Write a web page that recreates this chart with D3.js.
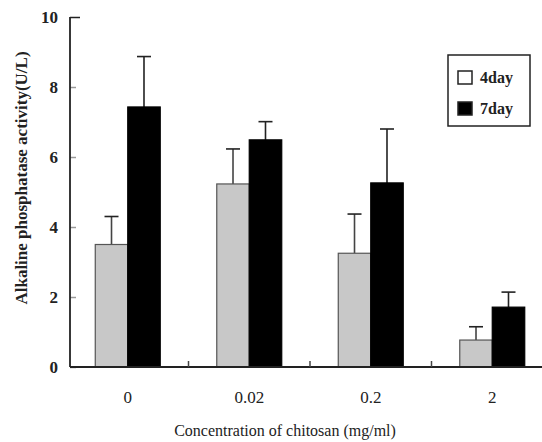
<!DOCTYPE html>
<html>
<head>
<meta charset="utf-8">
<script src="https://cdn.jsdelivr.net/npm/d3@7"></script>
<style>
  body { margin: 0; background: #fff; }
  svg text { font-family: "Times New Roman", "Liberation Serif", "DejaVu Serif", serif; }
</style>
</head>
<body>
<div id="chart"></div>
<script>
const categories = ['0', '0.02', '0.2', '2'];
const seriesNames = ['4day', '7day'];
const day4 = [3.5, 5.23, 3.25, 0.77];
const day4Err = [0.8, 1.0, 1.12, 0.38];
const day7 = [7.43, 6.49, 5.26, 1.71];
const day7Err = [1.44, 0.52, 1.54, 0.43];
const yTicks = [0, 2, 4, 6, 8, 10];

const width = 542;
const height = 442;
const serif = '"Times New Roman", "Liberation Serif", "DejaVu Serif", serif';

const svg = d3.select('#chart').append('svg')
  .attr('width', width)
  .attr('height', height)
  .attr('font-family', serif);

const x0 = d3.scaleBand()
  .domain(categories)
  .range([67, 553])
  .padding(0);

const x1 = d3.scaleBand()
  .domain(seriesNames)
  .range([0, x0.bandwidth()])
  .paddingInner(0)
  .paddingOuter(0.87);

const y = d3.scaleLinear()
  .domain([0, 10])
  .range([367, 17]);

const fills = { '4day': '#c8c8c8', '7day': '#000' };
const strokes = { '4day': '#555', '7day': '#000' };

// Format data
const data = [];
categories.forEach((c, i) => {
  data.push({ cat: c, s: '4day', v: day4[i], e: day4Err[i] });
  data.push({ cat: c, s: '7day', v: day7[i], e: day7Err[i] });
});

// Error bars (behind bars)
const err = svg.append('g');
data.forEach((d) => {
  const cx = x0(d.cat) + x1(d.s) + x1.bandwidth() / 2;
  err.append('line')
    .attr('x1', cx).attr('x2', cx)
    .attr('y1', y(d.v)).attr('y2', y(d.v + d.e))
    .attr('stroke', d.s === '4day' ? '#444' : '#222')
    .attr('stroke-width', 1.6);
  err.append('line')
    .attr('x1', cx - 7).attr('x2', cx + 7)
    .attr('y1', y(d.v + d.e)).attr('y2', y(d.v + d.e))
    .attr('stroke', '#222')
    .attr('stroke-width', 1.6);
});

// Bars
svg.append('g').selectAll('rect')
  .data(data)
  .join('rect')
  .attr('x', d => x0(d.cat) + x1(d.s))
  .attr('y', d => y(d.v))
  .attr('width', x1.bandwidth())
  .attr('height', d => y(0) - y(d.v))
  .attr('fill', d => fills[d.s])
  .attr('stroke', d => strokes[d.s])
  .attr('stroke-width', 1.2);

// Y axis
const yAxis = svg.append('g')
  .attr('transform', 'translate(70,0)')
  .call(d3.axisRight(y).tickValues(yTicks).tickSize(6).tickFormat(''));
yAxis.select('.domain').remove();
yAxis.selectAll('.tick line').attr('stroke', '#999').attr('stroke-width', 1.5);
yAxis.selectAll('.tick').filter(d => d === 10).select('line')
  .attr('x2', 10).attr('stroke', '#222');
svg.append('line')
  .attr('x1', 70).attr('x2', 70)
  .attr('y1', y(10)).attr('y2', y(0))
  .attr('stroke', '#222').attr('stroke-width', 1.8);

svg.append('g').selectAll('text')
  .data(yTicks)
  .join('text')
  .attr('x', 58)
  .attr('y', d => y(d))
  .attr('dy', '0.35em')
  .attr('text-anchor', 'end')
  .attr('font-size', 17)
  .attr('font-weight', 'bold')
  .attr('fill', '#222')
  .text(d => d);

// X axis
svg.append('line')
  .attr('x1', 70).attr('x2', width)
  .attr('y1', y(0)).attr('y2', y(0))
  .attr('stroke', '#222').attr('stroke-width', 1.8);

svg.append('g').selectAll('line')
  .data(categories.slice(1))
  .join('line')
  .attr('x1', d => x0(d)).attr('x2', d => x0(d))
  .attr('y1', y(0)).attr('y2', y(0) - 6)
  .attr('stroke', '#444').attr('stroke-width', 1.5);

svg.append('g').selectAll('text')
  .data(categories)
  .join('text')
  .attr('x', d => x0(d) + x0.bandwidth() / 2)
  .attr('y', 403)
  .attr('text-anchor', 'middle')
  .attr('font-size', 17)
  .attr('fill', '#222')
  .text(d => d);

// Axis titles
svg.append('text')
  .attr('x', 285)
  .attr('y', 436)
  .attr('text-anchor', 'middle')
  .attr('font-size', 16)
  .attr('fill', '#222')
  .text('Concentration of chitosan (mg/ml)');

svg.append('text')
  .attr('transform', 'translate(27,178) rotate(-90)')
  .attr('text-anchor', 'middle')
  .attr('font-size', 17)
  .attr('font-weight', 'bold')
  .attr('fill', '#222')
  .text('Alkaline phosphatase activity(U/L)');

// Legend
const legend = svg.append('g');
legend.append('rect')
  .attr('x', 448).attr('y', 55)
  .attr('width', 82).attr('height', 71)
  .attr('fill', '#fff')
  .attr('stroke', '#222').attr('stroke-width', 1.5);

seriesNames.forEach((s, i) => {
  legend.append('rect')
    .attr('x', 458).attr('y', 71 + i * 31)
    .attr('width', 14).attr('height', 13)
    .attr('fill', s === '4day' ? '#fff' : '#000')
    .attr('stroke', '#222').attr('stroke-width', 1.5);
  legend.append('text')
    .attr('x', 480).attr('y', 83 + i * 31)
    .attr('font-size', 16)
    .attr('font-weight', 'bold')
    .attr('fill', '#222')
    .text(s);
});
</script>
</body>
</html>
